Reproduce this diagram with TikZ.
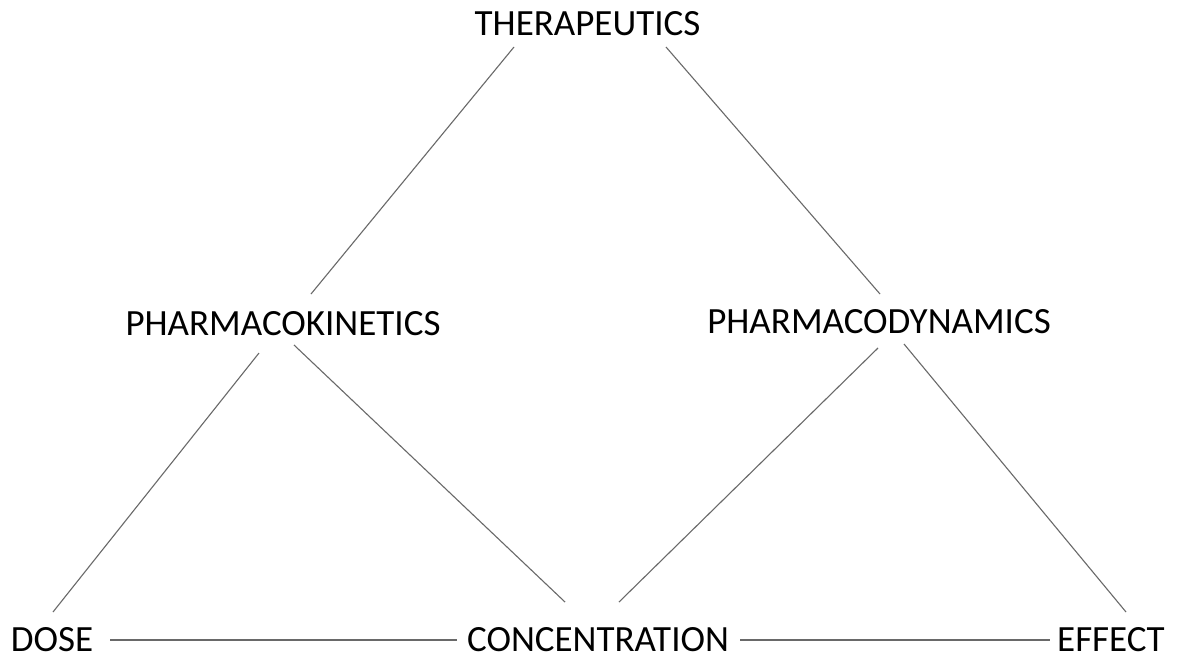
\documentclass[tikz,border=0pt]{standalone}
\usepackage{fontspec}
\setmainfont{Carlito}
\usetikzlibrary{calc}
\definecolor{linegray}{RGB}{105,105,105}
\tikzset{
  lbl/.style={inner sep=0pt, font=\fontsize{37}{42}\selectfont, text=black},
  conn/.style={draw=linegray, line width=1.1pt}
}
\begin{document}
\begin{tikzpicture}[x=1pt,y=-1pt]
\useasboundingbox[fill=white] (0,0) rectangle (1180,662);
\node[lbl] (ther) at (587.5,24) {THERAPEUTICS};
\node[lbl] (pk) at (283,323.5) {PHARMACOKINETICS};
\node[lbl] (pd) at (879,321.5) {PHARMACODYNAMICS};
\node[lbl] (dose) at (52,640) {DOSE};
\node[lbl] (conc) at (598,640) {CONCENTRATION};
\node[lbl] (eff) at (1111,640) {EFFECT};
\draw[conn] ($(ther)+(-73.5,23)$) -- ($(pk)+(28,-29.5)$);
\draw[conn] ($(ther)+(78.5,23)$) -- ($(pd)+(1,-27.5)$);
\draw[conn] ($(pk)+(-24,29.5)$) -- ($(dose)+(1,-28)$);
\draw[conn] ($(pk)+(11,21.5)$) -- ($(conc)+(-33,-38)$);
\draw[conn] ($(pd)+(-1,26.5)$) -- ($(conc)+(21,-38)$);
\draw[conn] ($(pd)+(25,22.5)$) -- ($(eff)+(15,-28)$);
\draw[conn] ($(dose)+(58,0)$) -- ($(conc)+(-141,0)$);
\draw[conn] ($(conc)+(142,0)$) -- ($(eff)+(-61,0)$);
\end{tikzpicture}
\end{document}
